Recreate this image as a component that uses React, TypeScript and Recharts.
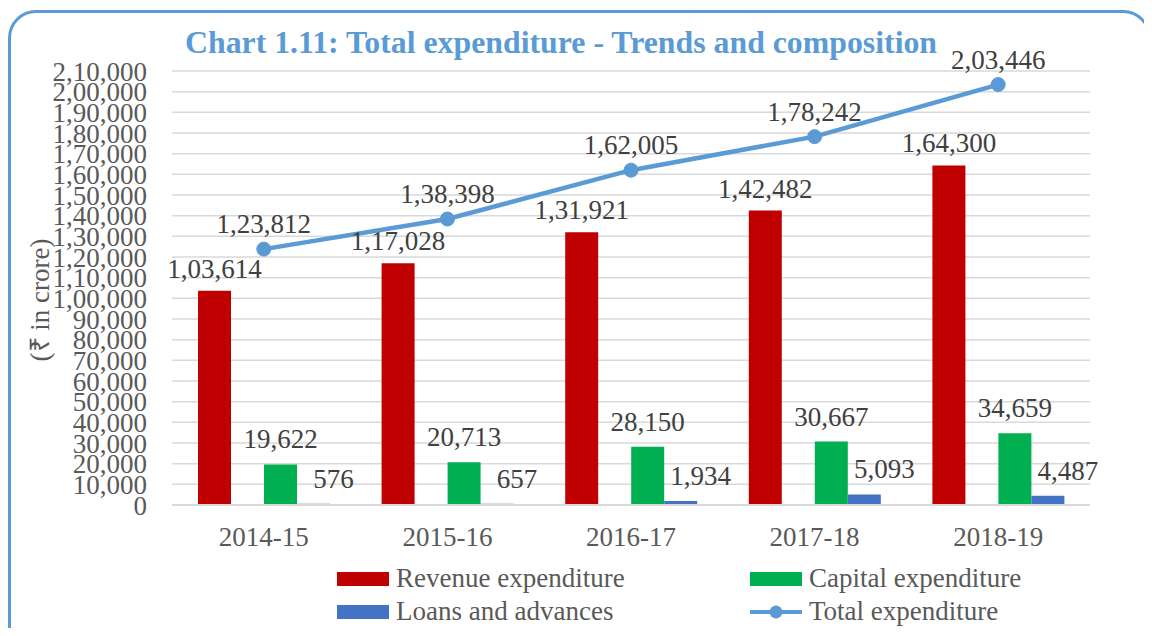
import React from 'react';
import { ComposedChart, Bar, Line, XAxis, YAxis, CartesianGrid, Legend, LabelList } from 'recharts';

const years = ['2014-15', '2015-16', '2016-17', '2017-18', '2018-19'];
const revenueExp = [103614, 117028, 131921, 142482, 164300];
const capitalExp = [19622, 20713, 28150, 30667, 34659];
const loansAdv = [576, 657, 1934, 5093, 4487];
const totalExp = [123812, 138398, 162005, 178242, 203446];
const yTicks = [
  0, 10000, 20000, 30000, 40000, 50000, 60000, 70000, 80000, 90000, 100000,
  110000, 120000, 130000, 140000, 150000, 160000, 170000, 180000, 190000, 200000, 210000,
];

const data = years.map((year, i) => ({
  year,
  revenue: revenueExp[i],
  capital: capitalExp[i],
  loans: loansAdv[i],
  total: totalExp[i],
}));

const FONT = '"Liberation Serif", "Times New Roman", serif';
const RED = '#C00000';
const GREEN = '#00B050';
const BLUE = '#4472C4';
const LINE = '#5B9BD5';

// Indian digit grouping: 2,10,000
const inr = (n: number) => {
  const s = String(Math.round(n));
  if (s.length <= 3) return s;
  const last3 = s.slice(-3);
  const rest = s.slice(0, -3).replace(/\B(?=(\d{2})+(?!\d))/g, ',');
  return rest + ',' + last3;
};

const labelStyle = { fill: '#404040', fontSize: 27, fontFamily: FONT };

const legendItems = [
  { name: 'Revenue expenditure', color: RED, type: 'bar', left: 337, top: 0 },
  { name: 'Capital expenditure', color: GREEN, type: 'bar', left: 750, top: 0 },
  { name: 'Loans and advances', color: BLUE, type: 'bar', left: 337, top: 33 },
  { name: 'Total expenditure', color: LINE, type: 'line', left: 750, top: 33 },
];

const renderLegend = () => (
  <div style={{ position: 'relative', width: 1152, height: 66 }}>
    {legendItems.map(item => (
      <div
        key={item.name}
        style={{
          position: 'absolute',
          left: item.left,
          top: item.top,
          height: 33,
          display: 'flex',
          alignItems: 'center',
          fontFamily: FONT,
          fontSize: 27,
          color: '#595959',
          whiteSpace: 'nowrap',
        }}
      >
        {item.type === 'bar' ? (
          <span style={{ display: 'inline-block', width: 52, height: 14, background: item.color, marginRight: 7 }} />
        ) : (
          <svg width={52} height={16} style={{ marginRight: 7 }}>
            <line x1={0} y1={8} x2={52} y2={8} stroke={item.color} strokeWidth={4} />
            <circle cx={26} cy={8} r={6.5} fill={item.color} />
          </svg>
        )}
        {item.name}
      </div>
    ))}
  </div>
);

export default function App() {
  return (
    <div style={{ position: 'relative', margin: -8, width: 1152, height: 636, overflow: 'hidden', background: '#fff' }}>
      <div
        style={{
          position: 'absolute',
          left: 8,
          top: 10,
          width: 1137,
          height: 700,
          border: `3px solid ${LINE}`,
          borderRadius: 28,
        }}
      />
      <div style={{ position: 'absolute', left: 0, top: 0 }}>
        <ComposedChart
          width={1152}
          height={636}
          data={data}
          margin={{ top: 71, right: 62, left: 0, bottom: 71 }}
          barGap={0}
          barSize={33}
        >
          <text x={185} y={53} fill={LINE} fontSize={31.8} fontWeight="bold" fontFamily={FONT}>
            Chart 1.11: Total expenditure - Trends and composition
          </text>
          <text
            x={40}
            y={300}
            transform="rotate(-90 40 300)"
            textAnchor="middle"
            dominantBaseline="central"
            fill="#595959"
            fontSize={27}
            fontFamily={FONT}
          >
            (₹ in crore)
          </text>
          <CartesianGrid vertical={false} stroke="#D9D9D9" strokeWidth={1.5} />
          <XAxis
            dataKey="year"
            height={60}
            axisLine={{ stroke: '#D9D9D9', strokeWidth: 2 }}
            tickLine={false}
            tickSize={0}
            tickMargin={22}
            tick={{ fill: '#595959', fontSize: 27, fontFamily: FONT }}
          />
          <YAxis
            width={172}
            domain={[0, 210000]}
            ticks={yTicks}
            interval={0}
            axisLine={false}
            tickLine={false}
            tickSize={0}
            tickMargin={25}
            tickFormatter={inr}
            tick={{ fill: '#595959', fontSize: 27, fontFamily: FONT }}
          />
          <Legend
            layout="horizontal"
            verticalAlign="middle"
            align="center"
            wrapperStyle={{ top: 562, left: 0, width: 1152 }}
            content={renderLegend}
          />
          <Bar dataKey="revenue" fill={RED} isAnimationActive={false}>
            <LabelList dataKey="revenue" position="top" offset={13} formatter={inr} style={labelStyle} />
          </Bar>
          <Bar dataKey="spacer" fill="transparent" legendType="none" isAnimationActive={false} />
          <Bar dataKey="capital" fill={GREEN} isAnimationActive={false}>
            <LabelList dataKey="capital" position="top" offset={16} formatter={inr} style={labelStyle} />
          </Bar>
          <Bar dataKey="loans" fill={BLUE} isAnimationActive={false}>
            <LabelList dataKey="loans" position="top" offset={16} dx={20} formatter={inr} style={labelStyle} />
          </Bar>
          <Line
            dataKey="total"
            stroke={LINE}
            strokeWidth={4.5}
            dot={{ r: 7, fill: LINE, stroke: LINE, strokeWidth: 1 }}
            isAnimationActive={false}
          >
            <LabelList dataKey="total" position="top" offset={16} formatter={inr} style={labelStyle} />
          </Line>
        </ComposedChart>
      </div>
    </div>
  );
}
